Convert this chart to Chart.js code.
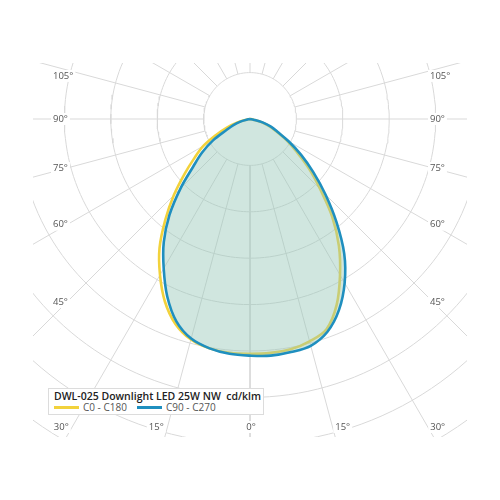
<!DOCTYPE html>
<html>
<head>
<meta charset="utf-8">
<title>DWL-025 polar diagram</title>
<script src="https://cdn.jsdelivr.net/npm/chart.js@4.4.1/dist/chart.umd.min.js"></script>
<style>
  html, body { margin: 0; padding: 0; background: #fff; }
  #wrap { position: relative; width: 500px; height: 500px; }
  #legend {
    position: absolute; left: 48px; top: 388px; width: 214px; height: 25px;
    border: 1px solid #dcdcdc; background: #fff;
    font-family: "Open Sans", Lato, sans-serif;
  }
  #legend .title { position: absolute; left: 5px; top: 0; font-size: 10.5px; font-weight: 600; color: #222; white-space: nowrap; line-height: 14px; }
  #legend .item { position: absolute; top: 12px; font-size: 10px; color: #555; white-space: nowrap; line-height: 13px; }
  #legend .swatch { display: inline-block; width: 25px; height: 3px; vertical-align: middle; margin-right: 4px; position: relative; top: -1px; }
</style>
</head>
<body>
<div id="wrap">
  <canvas id="polar" width="500" height="500"></canvas>
  <div id="legend">
    <div class="title">DWL-025 Downlight LED 25W NW&nbsp;&nbsp;cd/klm</div>
    <div class="item" style="left:5px"><span class="swatch" style="background:#f2d23c"></span>C0 - C180</div>
    <div class="item" style="left:88px"><span class="swatch" style="background:#1f8fbf"></span>C90 - C270</div>
  </div>
</div>
<script>
// gamma angles measured from nadir (0 = straight down)
const gammaAngles = [0, 5, 10, 15, 20, 25, 30, 35, 40, 45, 50, 55, 60, 65, 70, 75, 80, 85, 90];

// intensities, cd/klm
const c0   = [253, 253, 252, 248, 241, 221, 194, 167, 138, 107, 83, 61, 45, 31, 21, 12, 3, 0, 0];
const c180 = [253, 253, 251, 246, 235, 217, 194, 170, 142, 116, 92, 73, 58, 40, 26, 14, 4, 0, 0];
const c90  = [255, 256, 255, 253, 244, 227, 204, 177, 145, 115, 89, 67, 48, 33, 24, 14, 4, 0, 0];
const c270 = [255, 254, 251, 245, 232, 211, 186, 162, 135, 106, 80, 63, 46, 28, 19, 10, 2, 0, 0];

// grid
const ringValues = [50, 100, 150, 200, 250, 300, 350, 400];
const spokeAngles = [0, 15, 30, 45, 60, 75, 90, 105, 120, 135, 150, 165, 180, 195, 210, 225, 240, 255, 270, 285, 300, 315, 330, 345];
const sideLabels = [105, 90, 75, 60, 45];
const bottomLabels = [30, 15, 0];

const YELLOW = '#f2d23c';
const BLUE = '#1f8fbf';
const GRID = '#d9d9d9';
const FONT = '"Open Sans", Lato, sans-serif';

const rad = (d) => d * Math.PI / 180;

// gamma from nadir, negative = left half
function polar(gamma, value) {
  return { x: value * Math.sin(rad(gamma)), y: -value * Math.cos(rad(gamma)) };
}

function curvePoints(left, right) {
  const pts = [];
  for (let i = gammaAngles.length - 1; i >= 0; i--) {
    if (left[i] > 0 || i === gammaAngles.length - 1) pts.push(polar(-gammaAngles[i], left[i]));
  }
  for (let i = 1; i < gammaAngles.length; i++) {
    if (right[i] > 0 || i === gammaAngles.length - 1) pts.push(polar(gammaAngles[i], right[i]));
  }
  return pts;
}

function ringPoints(value) {
  const pts = [];
  for (let a = 0; a <= 360; a += 2) pts.push(polar(a, value));
  return pts;
}

const gridLine = { showLine: true, pointRadius: 0, borderColor: GRID, borderWidth: 1, fill: false, tension: 0 };

const datasets = [
  {
    label: 'C90 - C270',
    data: curvePoints(c270, c90),
    showLine: true, pointRadius: 0, borderColor: BLUE, borderWidth: 2.6,
    backgroundColor: 'rgba(150, 200, 185, 0.45)', fill: 'shape', tension: 0.35,
  },
  {
    label: 'C0 - C180',
    data: curvePoints(c180, c0),
    showLine: true, pointRadius: 0, borderColor: YELLOW, borderWidth: 2.6,
    fill: false, tension: 0.35,
  },
];

ringValues.forEach((v) => datasets.push({ ...gridLine, label: 'ring ' + v, data: ringPoints(v) }));
spokeAngles.forEach((a) => datasets.push({
  ...gridLine, label: 'spoke ' + a, data: [polar(a, ringValues[0]), polar(a, 600)],
}));

// 0.928 px per cd/klm, centre at (250, 119), plot box 33..467 x 63..437
const PX = 0.928;
const box = { left: 33, right: 467, top: 63, bottom: 437 };
const centre = { x: 250, y: 119 };

const angleLabels = {
  id: 'angleLabels',
  afterDatasetsDraw(chart) {
    const { ctx } = chart;
    const cx = chart.scales.x.getPixelForValue(0);
    const cy = chart.scales.y.getPixelForValue(0);
    ctx.save();
    ctx.font = '9.5px ' + FONT;
    ctx.textBaseline = 'middle';
    const put = (text, px, py, align) => {
      const w = ctx.measureText(text).width;
      const left = align === 'left' ? px : align === 'right' ? px - w : px - w / 2;
      ctx.fillStyle = '#fff';
      ctx.fillRect(left - 2, py - 6, w + 4, 12);
      ctx.fillStyle = '#555';
      ctx.textAlign = align;
      ctx.fillText(text, px, py);
    };
    sideLabels.forEach((a) => {
      const y = cy + 183 / Math.tan(rad(a)) + (a > 90 ? 6 : 0);
      put(a + '°', cx - 197, y, 'left');
      put(a + '°', cx + 180, y, 'left');
    });
    const by = cy + 308;
    bottomLabels.forEach((a) => {
      const dx = 307 * Math.tan(rad(a));
      if (a === 0) {
        put('0°', cx + 1, by, 'center');
      } else {
        put(a + '°', cx - dx - 4, by, 'right');
        put(a + '°', cx + dx + 3, by, 'left');
      }
    });
    ctx.restore();
  },
};

new Chart(document.getElementById('polar'), {
  type: 'scatter',
  data: { datasets },
  options: {
    responsive: false,
    animation: false,
    events: [],
    layout: { padding: { left: box.left, right: 500 - box.right, top: box.top, bottom: 500 - box.bottom } },
    plugins: { legend: { display: false }, tooltip: { enabled: false } },
    scales: {
      x: {
        type: 'linear', display: false,
        min: (box.left - centre.x) / PX, max: (box.right - centre.x) / PX,
      },
      y: {
        type: 'linear', display: false,
        min: -(box.bottom - centre.y) / PX, max: (centre.y - box.top) / PX,
      },
    },
  },
  plugins: [angleLabels],
});
</script>
</body>
</html>
